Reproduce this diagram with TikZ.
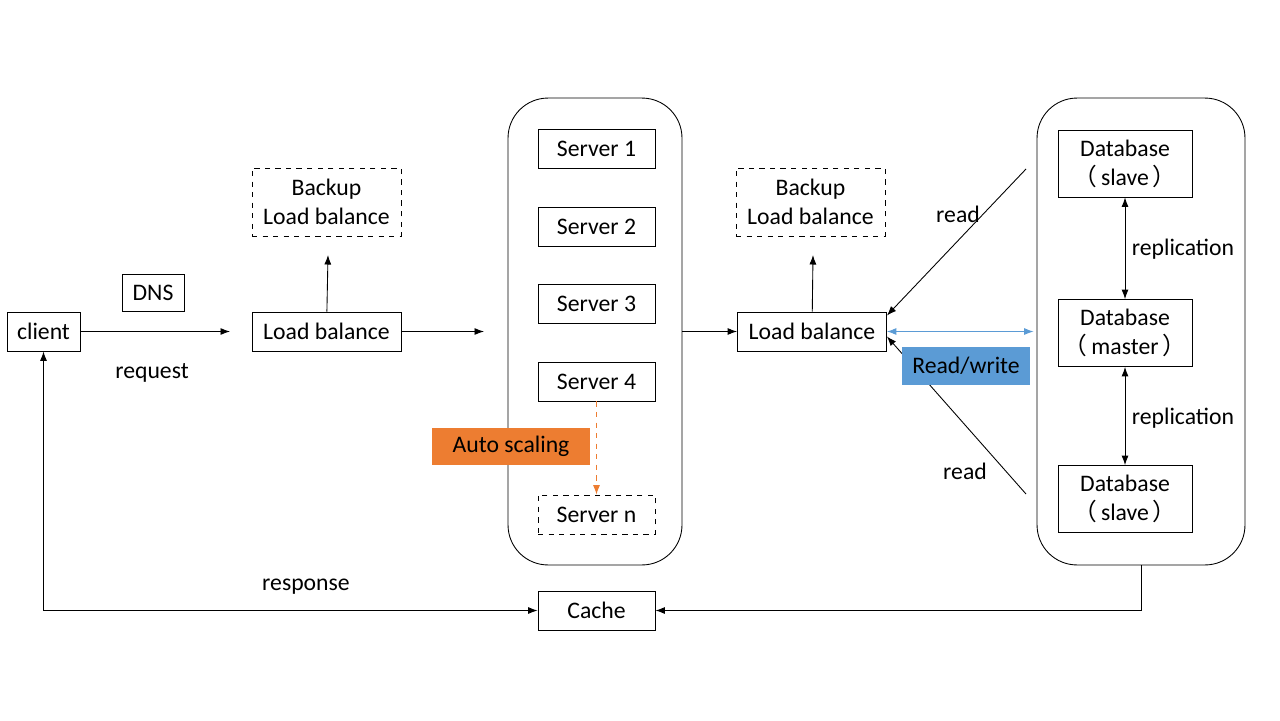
\documentclass[tikz,border=0pt]{standalone}
\usepackage{fontspec}
\setmainfont{Carlito}
\newfontfamily\cjk{Noto Sans CJK SC}
\usetikzlibrary{arrows.meta}
\definecolor{arancio}{HTML}{ED7D31}
\definecolor{blu}{HTML}{5B9BD5}
\newcommand{\parA}{{\cjk （}\,}
\newcommand{\parB}{\,{\cjk ）}}
\begin{document}
\begin{tikzpicture}[x=0.02cm, y=-0.02cm, line width=0.5pt,
        font=\fontsize{13.5}{16.5}\selectfont,
        >={Latex[length=1.9mm,width=1.4mm]},
        scatola/.style={draw, minimum height=0.78cm, inner sep=0pt},
        riserva/.style={draw, dashed, minimum width=2.98cm, minimum height=1.36cm, align=center, inner sep=0pt},
        dbbox/.style={draw, minimum width=2.68cm, minimum height=1.34cm, align=center, inner sep=0pt},
        contenitore/.style={draw, rounded corners=0.8cm, minimum height=9.34cm, inner sep=0pt},
        etichetta/.style={fill=#1, minimum height=0.75cm, inner sep=0pt}]
        \useasboundingbox (0,0) rectangle (1280,720);
        % Contenitori arrotondati
        \node[contenitore, minimum width=3.48cm] (srv_box) at (595,331.5) {};
        \node[contenitore, minimum width=4.16cm] (db_box) at (1141,331.5) {};

        % Lato client
        \node[scatola, minimum width=1.46cm] (client) at (43.5,331.5) {client};
        \node[draw, minimum width=1.24cm, minimum height=0.74cm, inner sep=0pt] (dns) at (153,292.5) {DNS};
        \node (request) at (152,373) {request};
        \coordinate (req_end) at (230,331.5);

        % Primo bilanciatore
        \node[scatola, minimum width=2.98cm] (lb1) at (326.5,331.5) {Load balance};
        \node[riserva] (backup1) at (326.5,202) {Backup\\Load balance};
        \coordinate (backup1_end) at (328,255);
        \coordinate (lb1_end) at (484,331.5);

        % Server
        \node[scatola, minimum width=2.34cm] (s1) at (596.5,148.5) {Server 1};
        \node[scatola, minimum width=2.34cm] (s2) at (596.5,226.5) {Server 2};
        \node[scatola, minimum width=2.34cm] (s3) at (596.5,304) {Server 3};
        \node[scatola, minimum width=2.34cm] (s4) at (596.5,381.5) {Server 4};
        \node[scatola, dashed, minimum width=2.34cm] (sn) at (596.5,514.5) {Server n};

        % Secondo bilanciatore
        \node[scatola, minimum width=2.98cm] (lb2) at (812,331.5) {Load balance};
        \node[riserva] (backup2) at (810.5,202) {Backup\\Load balance};
        \coordinate (backup2_end) at (813,255);

        % Database
        \node[dbbox] (db_s1) at (1125,163.5) {Database\\\parA slave\parB};
        \node[dbbox] (db_m) at (1125,333) {Database\\\parA master\parB};
        \node[dbbox] (db_s2) at (1125,499) {Database\\\parA slave\parB};
        \node (rep1) at (1183,249) {replication};
        \node (rep2) at (1183,418) {replication};

        \coordinate (read_top) at (1026,169);
        \coordinate (read_bot) at (1026,494);
        \node (read1) at (958,214) {read};
        \node (read2) at (965,471) {read};

        % Cache e risposta
        \node[scatola, minimum width=2.34cm] (cache) at (596.5,610.5) {Cache};
        \node (response) at (306,587) {response};

        \draw[->] (client) -- (req_end);
        \draw[->] (lb1) -- (backup1_end);
        \draw[->] (lb1) -- (lb1_end);
        \draw[->, arancio, dashed] (s4) -- (sn);
        \draw[->] (srv_box.east) -- (lb2);
        \draw[->] (lb2) -- (backup2_end);
        \draw[->] (read_top) -- ([yshift=0.32cm]lb2.east);
        \draw[->] (read_bot) -- ([yshift=-0.1cm]lb2.east);
        \draw[<->, blu] (lb2.east) -- ([xshift=-0.06cm]db_box.west);
        \draw[<->] (db_s1) -- (db_m);
        \draw[<->] (db_m) -- (db_s2);
        \draw[->] (db_box.south) |- (cache.east);
        \draw[<->] (client.south) |- (cache.west);

        % Etichette colorate
        \node[etichetta=arancio, minimum width=3.16cm] (auto) at (511,446.5) {Auto scaling};
        \node[etichetta=blu, minimum width=2.56cm] (rw) at (966,366) {Read/write};
    \end{tikzpicture}
\end{document}
